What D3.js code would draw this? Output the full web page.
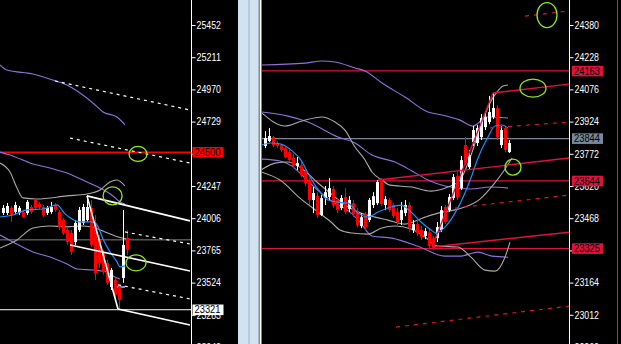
<!DOCTYPE html>
<html><head><meta charset="utf-8">
<script src="https://cdn.jsdelivr.net/npm/d3@7"></script>
<style>html,body{margin:0;padding:0;background:#000;overflow:hidden}</style>
</head><body>
<svg id="c" width="621" height="344"></svg>
<script>
// ---------- DATA ----------
const leftTicks = [25452,25211,24970,24729,24488,24247,24006,23765,23524,23283,23042];
const rightTicks = [24380,24228,24076,23924,23772,23620,23468,23316,23164,23012,22860];
// tick labels fully covered by a price box in the reference
const leftHiddenTicks = [24488];
const rightHiddenTicks = [23316];

const leftOpen  = [24045,24045,24083,24053,24045,24053,24045,24090,24143,24113,24090,24045,24053,24105,24053,23993,23918,23896,23828,23918,23971,23993,24083,23971,23843,23746,23671,23492,23544,23492,23559,23858];
const leftHigh  = [24105,24120,24098,24128,24098,24068,24143,24105,24158,24128,24105,24098,24128,24120,24068,24008,23933,23918,23993,24090,24113,24180,24143,24030,23881,23769,23694,23634,23559,23507,24068,23918];
const leftLow   = [24030,24030,23978,24038,24030,24008,24030,24038,24068,24075,24015,24030,24038,24053,23918,23881,23806,23731,23806,23903,23956,23978,23791,23544,23634,23582,23507,23469,23409,23321,23522,23731];
const leftClose = [24083,24098,24030,24105,24083,24015,24128,24053,24083,24090,24030,24083,24090,24068,23941,23896,23828,23754,23971,24068,24090,24090,23806,23596,23671,23604,23522,23619,23432,23393,23806,23769];

const leftBlue = [[-0.75,24015],[2.5,24030],[6,24068],[10,24075],[13.5,24105],[15.5,24038],[17.25,24001],[19.25,23978],[22.25,23978],[23.5,23956],[25,23851],[26.75,23754],[28.5,23679],[29.25,23641],[30.5,23649]];
const leftGreyUpper = [[-0.75,24419],[1.75,24352],[3.5,24232],[5,24158],[8.5,24150],[16,24173],[21,24187],[24.25,24217],[26.75,24277],[28.5,24292],[30.5,24247]];
const leftGreyLower = [[-0.75,23783],[3.5,23843],[7.5,23933],[11.75,23948],[16,23941],[20,23948],[23,23933],[25.5,23903],[28,23873],[31,23851]];
const leftPurpleUpper = [[-0.75,25153],[1,25115],[7.5,25085],[12.5,25040],[16,25003],[19.25,24943],[22.5,24868],[25,24801],[28.5,24763],[30.5,24704]];
const leftPurpleMid = [[-0.75,24501],[1.75,24479],[7.5,24412],[11.75,24382],[16,24344],[21,24277],[24.25,24232],[27.5,24172],[29.25,24127],[30.5,24112]];
const leftPurpleLower = [[-0.75,23880],[2.5,23828],[7.5,23753],[11.75,23716],[16,23663],[18.5,23626],[22.5,23618],[26,23603],[28,23566],[29.25,23551]];
const leftLavender = [[28,23491],[30.5,23491]];

const leftSolidLines = [
  [[21,24173],[46.75,23986]],
  [[16.75,23806],[46.75,23611]],
  [[28.75,23327],[46.75,23207]],
  [[21,24173],[28.75,23327]]
];
const leftDashedLines = [
  [[13,25033],[46.75,24816]],
  [[16.75,24606],[46.75,24419]],
  [[30.5,23903],[46.75,23813]],
  [[28.75,23507],[46.75,23402]]
];
const leftLevels = [24500, 23321, 23844];
const leftMarks = [24500, 23321];
const leftCircles = [[33.75,24487],[27.4,24173],[33.25,23671]];

const rightOpen  = [23809,23832,23851,23823,23813,23799,23780,23752,23714,23719,23686,23648,23554,23572,23483,23563,23568,23606,23554,23516,23568,23511,23539,23497,23431,23487,23459,23530,23539,23648,23530,23554,23530,23497,23459,23492,23530,23412,23440,23412,23384,23402,23374,23374,23412,23521,23506,23563,23667,23610,23813,23709,23827,23823,23851,23898,23922,23946,23988,23813,23894,23780];
const rightHigh  = [23879,23894,23856,23832,23818,23809,23790,23771,23757,23733,23705,23657,23615,23591,23577,23620,23657,23620,23563,23577,23610,23572,23554,23516,23492,23497,23563,23591,23648,23657,23572,23563,23539,23516,23544,23554,23544,23459,23459,23431,23421,23421,23384,23450,23525,23530,23582,23676,23686,23761,23851,23790,23903,23908,23960,23969,24045,24059,24002,23903,23903,23837];
const rightLow   = [23799,23827,23804,23799,23780,23752,23733,23705,23695,23662,23620,23530,23492,23469,23478,23530,23554,23516,23492,23506,23487,23497,23473,23426,23421,23412,23450,23516,23530,23525,23506,23497,23469,23426,23436,23478,23402,23398,23384,23365,23369,23327,23317,23355,23402,23440,23497,23554,23554,23601,23719,23695,23809,23809,23837,23884,23912,23936,23837,23799,23780,23776];
const rightClose = [23846,23856,23813,23809,23790,23757,23742,23714,23728,23672,23634,23554,23587,23483,23563,23591,23610,23530,23506,23563,23497,23554,23487,23436,23473,23426,23554,23572,23639,23535,23558,23506,23478,23450,23506,23530,23421,23440,23398,23379,23407,23336,23327,23426,23506,23450,23568,23662,23568,23742,23728,23766,23884,23894,23941,23946,23969,23988,23851,23884,23790,23823];

const rightBlue = [[-1,23813],[1.5,23823],[4,23818],[6.5,23790],[9,23742],[10.75,23681],[12,23639],[14,23587],[15.75,23554],[18.25,23544],[20.75,23539],[23.25,23492],[25.75,23473],[28.25,23497],[31.5,23521],[34,23530],[36.5,23497],[39,23450],[41.5,23412],[42.75,23398],[45,23426],[47.5,23492],[50,23587],[51.75,23672],[53.25,23752],[55.75,23851],[57.5,23903],[59.25,23908],[60.75,23894]];
const rightGreyU = [[-0.75,23964],[5,23903],[9.25,23927],[14.25,23946],[17.5,23922],[20,23884],[22.5,23804],[25,23743],[26.75,23686],[29.25,23648],[31.25,23624],[36.75,23615],[41.5,23596],[45.75,23615],[48.75,23648],[51.25,23752],[53.75,23894],[56.25,24012],[58,24064],[59.5,24092],[60.75,24097]];
const rightGreyM = [[-1,23695],[2.5,23728],[5.75,23733],[9,23705],[13.25,23634],[17.5,23568],[20.75,23521],[24,23492],[27.5,23473],[30.75,23459],[35,23440],[40,23473],[43.25,23492],[49.25,23516],[53.75,23558],[57,23624],[59.5,23686],[61.75,23752]];
const rightGreyL = [[-0.75,23685],[3.75,23648],[8.75,23563],[13.25,23497],[16.5,23450],[18.75,23412],[21.75,23398],[25.75,23393],[29,23421],[32.5,23431],[36.5,23417],[40,23379],[43.25,23336],[48.25,23332],[51.5,23284],[55,23223],[57.5,23218],[60,23284],[61.25,23355]];
const rightPurpleU = [[-0.75,24191],[10,24200],[14.25,24210],[17.5,24205],[22.5,24177],[25,24163],[29.25,24106],[35,24040],[40.75,23969],[44.25,23955],[48.75,23931],[52,23903],[55.5,23946],[60.75,23941]];
const rightPurpleM = [[-0.75,23969],[5.75,23950],[10.75,23922],[18.25,23851],[22.5,23823],[26.75,23766],[32.5,23733],[36.75,23691],[40.75,23648],[45,23620],[51.5,23606],[56.25,23615],[60.75,23610]];
const rightPurpleL = [[-0.75,23747],[3.75,23738],[6.75,23714],[10,23657],[13.75,23591],[17.5,23539],[21.25,23497],[23.75,23450],[26.75,23384],[31.75,23374],[38.25,23336],[45,23289],[48.75,23289],[53.25,23308],[56.75,23289],[60.75,23284]];

const rightSolidLines = [
  [[57,24059],[76,24101]],
  [[41.75,23332],[57,24059]],
  [[28.25,23648],[76,23752]],
  [[41.75,23332],[76,23402]]
];
const rightDashedLines = [
  [[65,24422],[76,24446]],
  [[56.25,23894],[76,23922]],
  [[47.5,23516],[76,23577]],
  [[32.75,22954],[76,23053]]
];
const rightLevels = [24163, 23844, 23644, 23325];
const rightMarks = [24163, 23844, 23644, 23325];
const rightCircles = [[70.5,24427],[67,24082],[62,23709]];

// ---------- DRAW ----------
const svg = d3.select("#c");
svg.append("rect").attr("width",621).attr("height",344).attr("fill","#000");
const defs = svg.append("defs");
defs.append("clipPath").attr("id","clipL").append("rect").attr("x",0).attr("y",0).attr("width",191).attr("height",344);
defs.append("clipPath").attr("id","clipR").append("rect").attr("x",262).attr("y",0).attr("width",307).attr("height",344);

const xL = d3.scaleLinear().domain([0,31]).range([3,127]);
const yL = d3.scaleLinear().domain([23042,25452]).range([347,25]);
const xR = d3.scaleLinear().domain([0,61]).range([265,509]);
const yR = d3.scaleLinear().domain([22860,24380]).range([347,25]);

const FONT = "Liberation Sans, Arial, sans-serif";
const RED = "#ff0000", CRIMSON = "#dc143c", PURPLE = "#9370db", BLUE = "#1e90ff", GREY = "#a9a9a9", GREEN = "#8ee81c";

function panel(cfg){
  const {x, y, clip, O, H, L, C, purple, greys, blue, solid, dashed, levels, levelColors, levelWidth, dashColor, solidColor, solidWidth, dashArr, circles, extra} = cfg;
  const g = svg.append("g").attr("clip-path", `url(#${clip})`);
  const line = d3.line().x(d=>x(d[0])).y(d=>y(d[1])).curve(d3.curveMonotoneX);
  const lin = d3.line().x(d=>x(d[0])).y(d=>y(d[1]));
  levels.forEach((v,k)=>{
    g.append("line").attr("x1",0).attr("x2",621).attr("y1",y(v)).attr("y2",y(v))
      .attr("stroke",levelColors[k]).attr("stroke-width",levelWidth[k]);
  });
  purple.forEach(s=>g.append("path").attr("d",line(s)).attr("fill","none").attr("stroke",PURPLE).attr("stroke-width",1.1));
  greys.forEach(s=>g.append("path").attr("d",line(s)).attr("fill","none").attr("stroke",GREY).attr("stroke-width",1.1));
  if(extra) g.append("path").attr("d",lin(extra)).attr("fill","none").attr("stroke","#b4a8e8").attr("stroke-width",1.6);
  d3.range(O.length).forEach(i=>{
    const bull = C[i] >= O[i];
    const col = bull ? "#ffffff" : RED;
    const cx = Math.round(x(i));
    g.append("line").attr("x1",cx+0.5).attr("x2",cx+0.5).attr("y1",y(H[i])).attr("y2",y(L[i]))
      .attr("stroke",col).attr("stroke-width",1);
    const top = Math.min(y(O[i]),y(C[i])), h = Math.max(1.2, Math.abs(y(O[i])-y(C[i])));
    g.append("rect").attr("x",cx-1).attr("y",top).attr("width",3).attr("height",h).attr("fill",col);
  });
  g.append("path").attr("d",line(blue)).attr("fill","none").attr("stroke",BLUE).attr("stroke-width",1.2);
  solid.forEach(s=>g.append("path").attr("d",lin(s)).attr("fill","none").attr("stroke",solidColor).attr("stroke-width",solidWidth));
  dashed.forEach(s=>g.append("path").attr("d",lin(s)).attr("fill","none").attr("stroke",dashColor).attr("stroke-width",1.2).attr("stroke-dasharray",dashArr));
  circles.forEach((c,k)=>{
    g.append("ellipse").attr("cx",x(c[0])).attr("cy",y(c[1]))
      .attr("rx",cfg.rx[k]).attr("ry",cfg.ry[k]).attr("fill","none").attr("stroke",GREEN).attr("stroke-width",1.3);
  });
}

panel({x:xL, y:yL, clip:"clipL", O:leftOpen, H:leftHigh, L:leftLow, C:leftClose,
  purple:[leftPurpleUpper,leftPurpleMid,leftPurpleLower], greys:[leftGreyUpper,leftGreyLower], blue:leftBlue,
  solid:leftSolidLines, dashed:leftDashedLines, levels:leftLevels, levelColors:[RED,"#ffffff","#808080"], levelWidth:[1.6,1,1],
  dashColor:"#ffffff", solidColor:"#ffffff", solidWidth:1.6, dashArr:"3,4", circles:leftCircles, rx:[9,9.5,10], ry:[7.5,9,8], extra:leftLavender});

panel({x:xR, y:yR, clip:"clipR", O:rightOpen, H:rightHigh, L:rightLow, C:rightClose,
  purple:[rightPurpleU,rightPurpleM,rightPurpleL], greys:[rightGreyU,rightGreyM,rightGreyL], blue:rightBlue,
  solid:rightSolidLines, dashed:rightDashedLines, levels:rightLevels, levelColors:[CRIMSON,"#778899",CRIMSON,CRIMSON], levelWidth:[1.2,1.2,1.2,1.2],
  dashColor:CRIMSON, solidColor:CRIMSON, solidWidth:1.4, dashArr:"4,5", circles:rightCircles, rx:[10,13,8], ry:[12.5,9,8]});

function axis(scale, ticks, hidden, xpos){
  const g = svg.append("g").attr("transform",`translate(${xpos},0)`)
    .call(d3.axisRight(scale).tickValues(ticks).tickSize(4).tickSizeOuter(0).tickPadding(1)
      .tickFormat(d => hidden.includes(d) ? "" : d3.format("d")(d)));
  g.select(".domain").remove();
  g.attr("font-family",FONT).attr("font-size",10);
  g.selectAll(".tick line").attr("stroke","#fff");
  g.selectAll(".tick text").filter(d=>!hidden.includes(d)).attr("fill","#fff").attr("textLength",24.5).attr("lengthAdjust","spacingAndGlyphs");
  svg.append("line").attr("x1",xpos).attr("x2",xpos).attr("y1",0).attr("y2",344).attr("stroke","#fff").attr("stroke-width",1);
}
axis(yL, leftTicks, leftHiddenTicks, 191.5);
axis(yR, rightTicks, rightHiddenTicks, 569.5);

function marks(scale, vals, fills, x0){
  vals.forEach((v,k)=>{
    const yy = scale(v);
    svg.append("rect").attr("x",x0).attr("y",yy-5.2).attr("width",31).attr("height",10.6).attr("fill",fills[k]);
    svg.append("text").attr("x",x0+2).attr("y",yy+3.6).attr("font-family",FONT).attr("font-size",10)
      .attr("fill","#000").attr("textLength",26).attr("lengthAdjust","spacingAndGlyphs").text(d3.format("d")(v));
  });
}
marks(yL, leftMarks, [RED,"#ffffff"], 192.5);
marks(yR, rightMarks, [CRIMSON,"#778899",CRIMSON,CRIMSON], 572);

svg.append("rect").attr("x",238).attr("y",0).attr("width",22).attr("height",344).attr("fill","#d3e2f1");
svg.append("rect").attr("x",248).attr("y",0).attr("width",2).attr("height",344).attr("fill","#b6cbe0");
svg.append("rect").attr("x",258.5).attr("y",0).attr("width",1.5).attr("height",344).attr("fill","#7d8ea0");
svg.append("rect").attr("x",260).attr("y",0).attr("width",1.5).attr("height",344).attr("fill","#ffffff");
svg.append("line").attr("x1",617.5).attr("x2",617.5).attr("y1",0).attr("y2",344).attr("stroke","#5a5a5a");
svg.append("rect").attr("x",618).attr("y",0).attr("width",3).attr("height",344).attr("fill","#000");
</script>
</body></html>
